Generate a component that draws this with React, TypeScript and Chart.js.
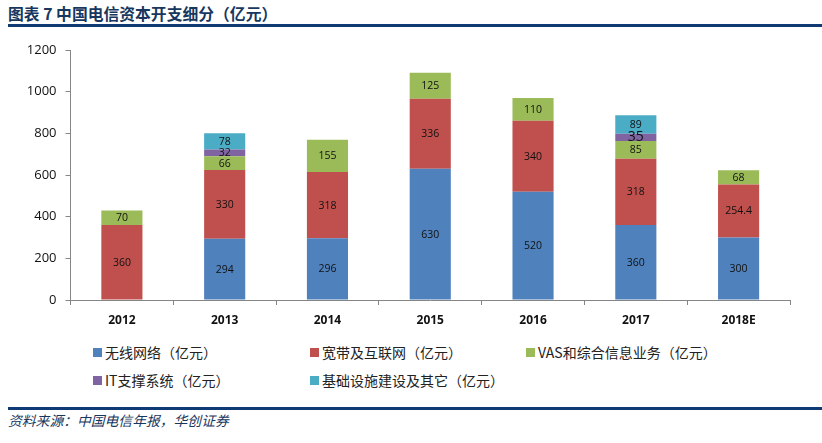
import React, { useEffect, useRef } from "react";
import { Chart, registerables } from "chart.js";

Chart.register(...registerables);

const categories = ["2012", "2013", "2014", "2015", "2016", "2017", "2018E"];
const wireless = [null, 294, 296, 630, 520, 360, 300];
const broadband = [360, 330, 318, 336, 340, 318, 254.4];
const vas = [70, 66, 155, 125, 110, 85, 68];
const itSupport = [null, 32, null, null, null, 35, null];
const infra = [null, 78, null, null, null, 89, null];
const yTicks = [0, 200, 400, 600, 800, 1000, 1200];

const seriesNames = [
  "无线网络（亿元）",
  "宽带及互联网（亿元）",
  "VAS和综合信息业务（亿元）",
  "IT支撑系统（亿元）",
  "基础设施建设及其它（亿元）",
];
const seriesColors = ["#4F81BD", "#C0504D", "#9BBB59", "#8064A2", "#4BACC6"];

const labelPlugin = {
  id: "segLabels",
  afterDatasetsDraw(chart: any) {
    const ctx = chart.ctx;
    ctx.save();
    ctx.textAlign = "center";
    ctx.textBaseline = "middle";
    ctx.fillStyle = "#111";
    chart.data.datasets.forEach((ds: any, di: number) => {
      const meta = chart.getDatasetMeta(di);
      meta.data.forEach((el: any, i: number) => {
        const v = ds.data[i];
        if (v === null || v === undefined) return;
        const big = di === 3 && i === 5;
        ctx.font = (big ? "14px" : "10.5px") + " 'Open Sans', 'Liberation Sans', sans-serif";
        const y = (el.y + el.base) / 2;
        ctx.fillText(String(v), el.x, y + (big ? 0 : 0.5));
      });
    });
    ctx.restore();
  },
};

export default function App() {
  const ref = useRef<HTMLCanvasElement>(null);
  useEffect(() => {
    document.body.style.margin = "0";
    const series = [wireless, broadband, vas, itSupport, infra];
    const chart = new Chart(ref.current as HTMLCanvasElement, {
      type: "bar",
      data: {
        labels: categories,
        datasets: series.map((d, i) => ({
          label: seriesNames[i],
          data: d,
          backgroundColor: seriesColors[i],
          borderWidth: 0,
          categoryPercentage: 1,
          barPercentage: 0.4,
        })),
      },
      options: {
        animation: false,
        responsive: false,
        maintainAspectRatio: false,
        layout: { padding: { left: 0, right: 32, top: 20, bottom: 0 } },
        plugins: { legend: { display: false }, tooltip: { enabled: false } },
        scales: {
          x: {
            stacked: true,
            grid: { display: true, drawOnChartArea: false, drawTicks: true, tickLength: 5, color: "#868686", offset: true },
            border: { display: true, color: "#868686" },
            ticks: {
              color: "#111",
              padding: 8,
              font: { family: "'Open Sans', 'Liberation Sans', sans-serif", size: 12, weight: "bold" },
            },
            afterFit: (s: any) => { s.height = 40; },
          },
          y: {
            stacked: true,
            min: 0,
            max: 1200,
            afterBuildTicks: (s: any) => { s.ticks = yTicks.map((v) => ({ value: v })); },
            grid: { display: true, drawOnChartArea: false, drawTicks: true, tickLength: 5, color: "#868686" },
            border: { display: true, color: "#868686" },
            ticks: {
              color: "#111",
              padding: 9,
              callback: (v: any) => String(v),
              font: { family: "'Open Sans', 'Liberation Sans', sans-serif", size: 13 },
            },
            afterFit: (s: any) => { s.width = 70.5; },
          },
        },
      } as any,
      plugins: [labelPlugin],
    });
    return () => chart.destroy();
  }, []);

  const cjk = "'Noto Sans CJK SC', 'Noto Sans', sans-serif";
  const legendPos = [
    [93, 348],
    [310, 348],
    [526, 348],
    [93, 376],
    [310, 376],
  ];

  return (
    <div style={{ position: "fixed", left: 0, top: 0, width: 822, height: 443, background: "#fff", overflow: "hidden" }}>
      <div style={{ position: "absolute", left: 8, top: 3, fontFamily: cjk, fontWeight: 700, fontSize: 15.8, color: "#17375E", lineHeight: "22px", whiteSpace: "nowrap" }}>
        图表 7 中国电信资本开支细分（亿元）
      </div>
      <div style={{ position: "absolute", left: 8, top: 24, width: 814, height: 3, background: "#0F3A73" }} />
      <canvas ref={ref} width={822} height={310} style={{ position: "absolute", left: 0, top: 30, width: 822, height: 310 }} />
      {seriesNames.map((n, i) => (
        <div key={n} style={{ position: "absolute", left: legendPos[i][0], top: legendPos[i][1] - 6, height: 20, display: "flex", alignItems: "center", whiteSpace: "nowrap" }}>
          <div style={{ width: 9, height: 9, background: seriesColors[i], marginRight: 3 }} />
          <span style={{ fontFamily: cjk, fontSize: 14, color: "#222", lineHeight: "20px" }}>{n}</span>
        </div>
      ))}
      <div style={{ position: "absolute", left: 8, top: 407, width: 814, height: 3, background: "#0F3A73" }} />
      <div style={{ position: "absolute", left: 8, top: 411, fontFamily: cjk, fontStyle: "italic", fontSize: 13.8, color: "#17375E", lineHeight: "18px", whiteSpace: "nowrap" }}>
        资料来源：中国电信年报，华创证券
      </div>
    </div>
  );
}
